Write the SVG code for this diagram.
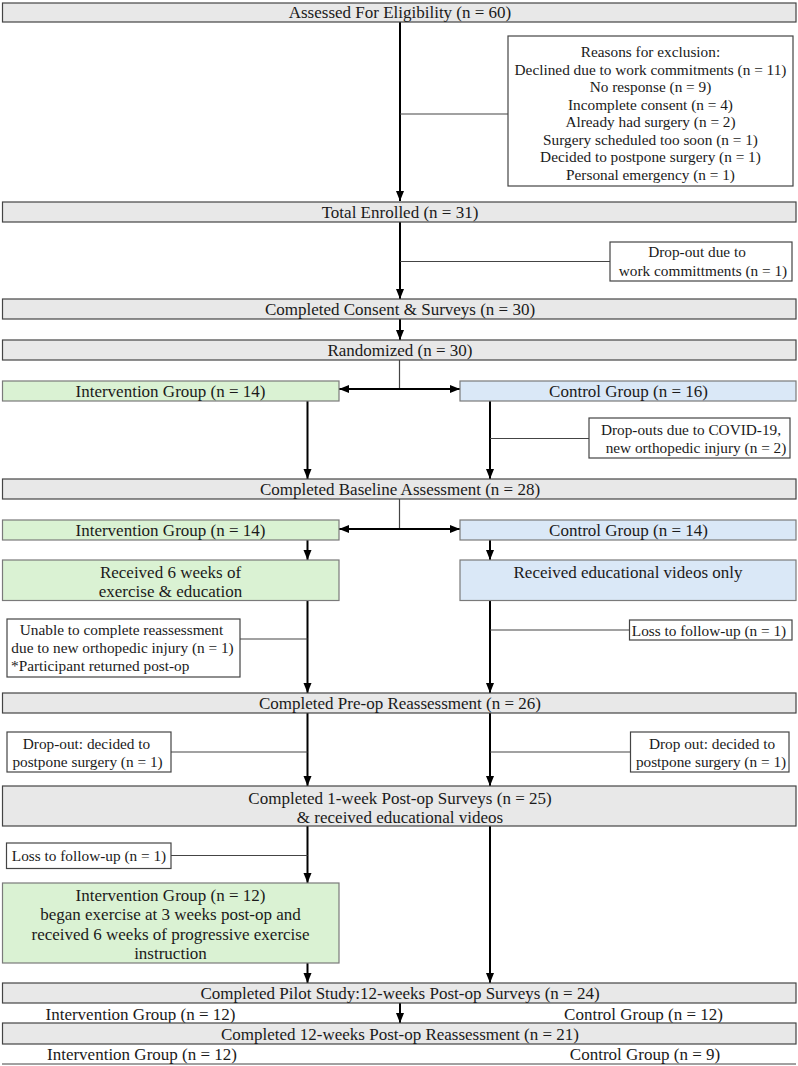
<svg xmlns="http://www.w3.org/2000/svg" width="798" height="1066" viewBox="0 0 798 1066">
<style>
  text { font-family: "Liberation Serif", "Times New Roman", serif; fill: #1a1a1a; }
  .m { font-size: 17px; text-anchor: middle; }
  .s { font-size: 15.3px; text-anchor: middle; }
  .sl { font-size: 15.3px; text-anchor: start; }
  .gray { fill: #e8e8e8; stroke: #444; stroke-width: 1.2; }
  .green { fill: #daf2d3; stroke: #7a7a7a; stroke-width: 1.2; }
  .blue { fill: #dae8f7; stroke: #7a7a7a; stroke-width: 1.2; }
  .white { fill: #ffffff; stroke: #444; stroke-width: 1.2; }
  .arr { stroke: #000; stroke-width: 2; fill: none; marker-end: url(#ah); }
  .dbl { stroke: #000; stroke-width: 2; fill: none; marker-end: url(#ah); marker-start: url(#ahs); }
  .thin { stroke: #444; stroke-width: 1.2; fill: none; }
</style>
<defs>
  <marker id="ah" markerUnits="userSpaceOnUse" markerWidth="10" markerHeight="10" viewBox="0 0 10 10" refX="10" refY="5" orient="auto">
    <path d="M0,1 L10,5 L0,9 Z" fill="#000"/>
  </marker>
  <marker id="ahs" markerUnits="userSpaceOnUse" markerWidth="10" markerHeight="10" viewBox="0 0 10 10" refX="0" refY="5" orient="auto">
    <path d="M10,1 L0,5 L10,9 Z" fill="#000"/>
  </marker>
</defs>

<g id="connectors">
  <line class="arr" x1="400" y1="22" x2="400" y2="201"/>
  <line class="thin" x1="400" y1="114" x2="508" y2="114"/>
  <line class="arr" x1="400" y1="222" x2="400" y2="299"/>
  <line class="thin" x1="400" y1="261.5" x2="610" y2="261.5"/>
  <line class="arr" x1="400" y1="319" x2="400" y2="340"/>
  <line class="thin" x1="399.5" y1="360" x2="399.5" y2="389"/>
  <line class="dbl" x1="339" y1="389" x2="460" y2="389"/>
  <line class="arr" x1="307.5" y1="401" x2="307.5" y2="479"/>
  <line class="arr" x1="490" y1="401" x2="490" y2="479"/>
  <line class="thin" x1="490" y1="438.5" x2="589" y2="438.5"/>
  <line class="thin" x1="399.5" y1="499" x2="399.5" y2="529"/>
  <line class="dbl" x1="339" y1="529" x2="460" y2="529"/>
  <line class="arr" x1="307.5" y1="540" x2="307.5" y2="560"/>
  <line class="arr" x1="490" y1="540" x2="490" y2="560"/>
  <line class="arr" x1="307.5" y1="600" x2="307.5" y2="693"/>
  <line class="arr" x1="490" y1="600" x2="490" y2="693"/>
  <line class="thin" x1="240" y1="639" x2="307.5" y2="639"/>
  <line class="thin" x1="490" y1="630" x2="629.5" y2="630"/>
  <line class="arr" x1="307.5" y1="713" x2="307.5" y2="786"/>
  <line class="arr" x1="490" y1="713" x2="490" y2="786"/>
  <line class="thin" x1="171" y1="752" x2="307.5" y2="752"/>
  <line class="thin" x1="490" y1="752" x2="630.5" y2="752"/>
  <line class="arr" x1="307.5" y1="826" x2="307.5" y2="883"/>
  <line class="thin" x1="171" y1="855.5" x2="307.5" y2="855.5"/>
  <line class="arr" x1="490" y1="826" x2="490" y2="983"/>
  <line class="arr" x1="307.5" y1="963" x2="307.5" y2="983"/>
  <line class="arr" x1="400" y1="1003" x2="400" y2="1023"/>
  <line class="thin" x1="2" y1="1064" x2="796" y2="1064"/>
</g>

<g id="n-assessed">
  <rect class="gray" x="2.5" y="3" width="793.5" height="19"/>
  <text class="m" x="400" y="18">Assessed For Eligibility (n = 60)</text>
</g>

<g id="n-reasons">
  <rect class="white" x="508" y="36" width="285" height="150"/>
  <text class="s" x="650.5" y="57">Reasons for exclusion:</text>
  <text class="s" x="650.5" y="74.5">Declined due to work commitments (n = 11)</text>
  <text class="s" x="650.5" y="92">No response (n = 9)</text>
  <text class="s" x="650.5" y="109.5">Incomplete consent (n = 4)</text>
  <text class="s" x="650.5" y="127">Already had surgery (n = 2)</text>
  <text class="s" x="650.5" y="144.5">Surgery scheduled too soon (n = 1)</text>
  <text class="s" x="650.5" y="162">Decided to postpone surgery (n = 1)</text>
  <text class="s" x="650.5" y="179.5">Personal emergency (n = 1)</text>
</g>

<g id="n-enrolled">
  <rect class="gray" x="2.5" y="202" width="793.5" height="20"/>
  <text class="m" x="400" y="217.5">Total Enrolled (n = 31)</text>
</g>

<g id="n-dropout-work">
  <rect class="white" x="610" y="242" width="182" height="39"/>
  <text class="s" x="697" y="257">Drop-out due to</text>
  <text class="s" x="703" y="275.5">work committments (n = 1)</text>
</g>

<g id="n-consent">
  <rect class="gray" x="2.5" y="299" width="793.5" height="20"/>
  <text class="m" x="400" y="315">Completed Consent &amp; Surveys (n = 30)</text>
</g>

<g id="n-randomized">
  <rect class="gray" x="2.5" y="340" width="793.5" height="20"/>
  <text class="m" x="400" y="356">Randomized (n = 30)</text>
</g>

<g id="n-int16">
  <rect class="green" x="2.5" y="381" width="336.5" height="20"/>
  <text class="m" x="170.5" y="397">Intervention Group (n = 14)</text>
</g>

<g id="n-ctl16">
  <rect class="blue" x="460" y="381" width="336" height="20"/>
  <text class="m" x="628.5" y="397">Control Group (n = 16)</text>
</g>

<g id="n-covid">
  <rect class="white" x="589" y="418" width="201" height="40"/>
  <text class="s" x="691" y="435">Drop-outs due to COVID-19,</text>
  <text class="s" x="696" y="453">new orthopedic injury (n = 2)</text>
</g>

<g id="n-baseline">
  <rect class="gray" x="2.5" y="479" width="793.5" height="20"/>
  <text class="m" x="400" y="495">Completed Baseline Assessment (n = 28)</text>
</g>

<g id="n-int14">
  <rect class="green" x="2.5" y="520" width="336.5" height="20"/>
  <text class="m" x="170.5" y="536">Intervention Group (n = 14)</text>
</g>

<g id="n-ctl14">
  <rect class="blue" x="460" y="520" width="336" height="20"/>
  <text class="m" x="628.5" y="536">Control Group (n = 14)</text>
</g>

<g id="n-exercise">
  <rect class="green" x="2.5" y="560" width="336.5" height="40.5"/>
  <text class="m" x="170.5" y="577.5">Received 6 weeks of</text>
  <text class="m" x="170.5" y="597">exercise &amp; education</text>
</g>

<g id="n-videos">
  <rect class="blue" x="460" y="560" width="336" height="40.5"/>
  <text class="m" x="628" y="577.5">Received educational videos only</text>
</g>

<g id="n-unable">
  <rect class="white" x="7" y="619" width="233" height="58"/>
  <text class="s" x="121.5" y="635">Unable to complete reassessment</text>
  <text class="s" x="122.5" y="653">due to new orthopedic injury (n = 1)</text>
  <text class="sl" x="11" y="670.5">*Participant returned post-op</text>
</g>

<g id="n-loss-right">
  <rect class="white" x="629.5" y="620" width="162.5" height="20"/>
  <text class="s" x="709" y="635.5">Loss to follow-up (n = 1)</text>
</g>

<g id="n-preop">
  <rect class="gray" x="2.5" y="693" width="793.5" height="20"/>
  <text class="m" x="400" y="709">Completed Pre-op Reassessment (n = 26)</text>
</g>

<g id="n-drop-left">
  <rect class="white" x="7" y="732" width="164" height="40"/>
  <text class="s" x="86.5" y="748.5">Drop-out: decided to</text>
  <text class="s" x="87.5" y="766.5">postpone surgery (n = 1)</text>
</g>

<g id="n-drop-right">
  <rect class="white" x="630.5" y="732" width="158.5" height="40"/>
  <text class="s" x="712" y="748.5">Drop out: decided to</text>
  <text class="s" x="711" y="766.5">postpone surgery (n = 1)</text>
</g>

<g id="n-postop1">
  <rect class="gray" x="2.5" y="786" width="793.5" height="40"/>
  <text class="m" x="400" y="803.5">Completed 1-week Post-op Surveys (n = 25)</text>
  <text class="m" x="400" y="822.5">&amp; received educational videos</text>
</g>

<g id="n-loss-left">
  <rect class="white" x="6.5" y="843" width="164.5" height="25.5"/>
  <text class="s" x="89" y="860.5">Loss to follow-up (n = 1)</text>
</g>

<g id="n-int12">
  <rect class="green" x="2.5" y="883" width="336.5" height="80"/>
  <text class="m" x="170.5" y="900.5">Intervention Group (n = 12)</text>
  <text class="m" x="170.5" y="920">began exercise at 3 weeks post-op and</text>
  <text class="m" x="170.5" y="939.5">received 6 weeks of progressive exercise</text>
  <text class="m" x="170.5" y="959">instruction</text>
</g>

<g id="n-pilot">
  <rect class="gray" x="2.5" y="983" width="793.5" height="20"/>
  <text class="m" x="400" y="999">Completed Pilot Study:12-weeks Post-op Surveys (n = 24)</text>
  <text class="m" x="140.5" y="1020">Intervention Group (n = 12)</text>
  <text class="m" x="643.5" y="1020">Control Group (n = 12)</text>
</g>

<g id="n-reassess12">
  <rect class="gray" x="2.5" y="1023" width="793.5" height="21"/>
  <text class="m" x="400" y="1039.5">Completed 12-weeks Post-op Reassessment (n = 21)</text>
  <text class="m" x="142" y="1060">Intervention Group (n = 12)</text>
  <text class="m" x="645" y="1060">Control Group (n = 9)</text>
</g>
</svg>
